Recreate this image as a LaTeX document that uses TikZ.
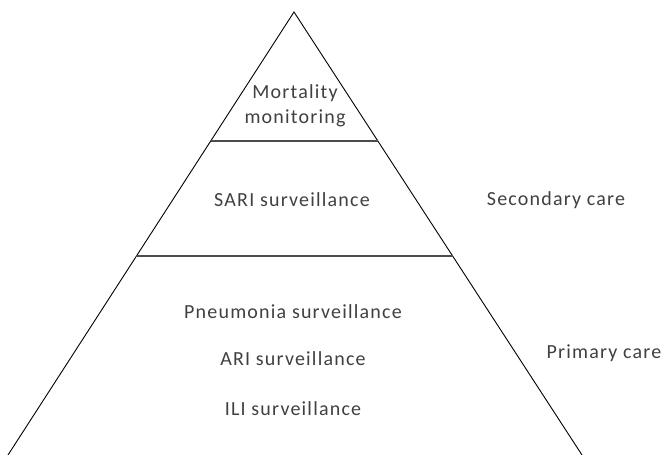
\documentclass[tikz,border=0pt]{standalone}
\usepackage{fontspec}
\setmainfont{Carlito}[LetterSpace=6]
\usepackage{tikz}
\usetikzlibrary{calc,positioning}
\definecolor{txtgray}{HTML}{404040}

\begin{document}
\begin{tikzpicture}[x=1pt,y=-1pt]
  \tikzset{lbl/.style={text=txtgray,font=\fontsize{20}{25}\selectfont,inner sep=0pt,align=center}}
  \useasboundingbox (0,0) rectangle (662,455);
  \begin{scope}
    \coordinate (top) at (294,12);
    \coordinate (bl) at (8,455);
    \coordinate (br) at (582,455);
    \coordinate (upl) at ($(top)!0.291!(bl)$);
    \coordinate (upr) at ($(top)!0.291!(br)$);
    \coordinate (lol) at ($(top)!0.551!(bl)$);
    \coordinate (lor) at ($(top)!0.551!(br)$);
    \draw[black,line width=0.9pt] (bl) -- (top) -- (br);
    \draw[black!70,line width=1.3pt] (upl) -- (upr);
    \draw[black!70,line width=1.3pt] (lol) -- (lor);
    \draw (295,106) node[lbl] (mort) {Mortality\\monitoring};
    \draw (292,200) node[lbl] (sari) {SARI surveillance};
    \draw (293,312) node[lbl] (pneu) {Pneumonia surveillance};
    \draw (293,359) node[lbl] (ari) {ARI surveillance};
    \draw (293,409) node[lbl] (ili) {ILI surveillance};
    \draw (556,200) node[lbl] (sec) {Secondary care};
    \draw (604,353) node[lbl] (prim) {Primary care};
  \end{scope}
\end{tikzpicture}
\end{document}
